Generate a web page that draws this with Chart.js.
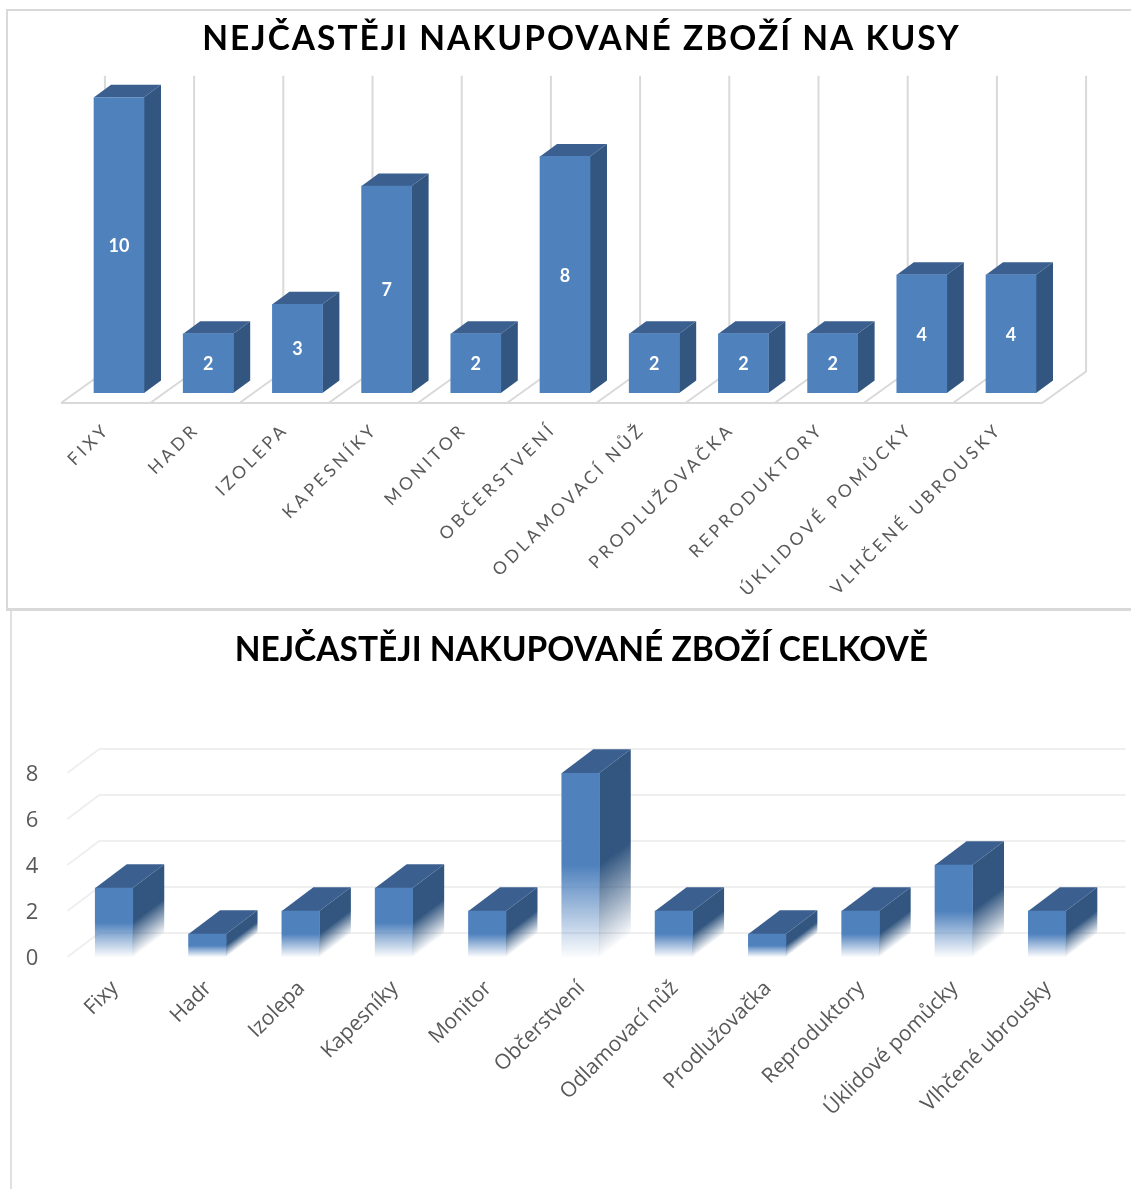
<!DOCTYPE html>
<html lang="cs">
<head>
<meta charset="utf-8">
<script src="https://cdn.jsdelivr.net/npm/chart.js@4"></script>
<style>
html,body{margin:0;padding:0;background:#fff;width:1131px;height:1189px;overflow:hidden}
canvas{position:absolute;left:0}
.f{position:absolute;background:#d9d9d9}
</style>
</head>
<body>
<div class="f" style="left:6px;top:9px;width:1125px;height:2px"></div>
<div class="f" style="left:6px;top:9px;width:2px;height:600px"></div>
<div class="f" style="left:6px;top:608px;width:1125px;height:3px"></div>
<div class="f" style="left:10px;top:611px;width:2px;height:578px;background:#e0e0e0"></div>
<canvas id="c1" style="top:0"></canvas>
<canvas id="c2" style="top:611px"></canvas>
<script>
const titleKusy = "NEJČASTĚJI NAKUPOVANÉ ZBOŽÍ NA KUSY";
const titleCelkem = "NEJČASTĚJI NAKUPOVANÉ ZBOŽÍ CELKOVĚ";
const categoriesKusy = ["FIXY","HADR","IZOLEPA","KAPESNÍKY","MONITOR","OBČERSTVENÍ","ODLAMOVACÍ NŮŽ","PRODLUŽOVAČKA","REPRODUKTORY","ÚKLIDOVÉ POMŮCKY","VLHČENÉ UBROUSKY"];
const valuesKusy = [10,2,3,7,2,8,2,2,2,4,4];
const categoriesCelkem = ["Fixy","Hadr","Izolepa","Kapesníky","Monitor","Občerstvení","Odlamovací nůž","Prodlužovačka","Reproduktory","Úklidové pomůcky","Vlhčené ubrousky"];
const valuesCelkem = [3,1,2,3,2,8,2,1,2,4,2];
const ticksCelkem = [0,2,4,6,8];

const FONT = "Lato, Carlito, sans-serif";
const FRONT = "#4f81bd", SIDE = "#325680", TOP = "#3b6090";
const INK = "#595959";

function rgba(hex,a){const n=parseInt(hex.slice(1),16);return `rgba(${n>>16},${(n>>8)&255},${n&255},${a})`;}

function poly(ctx,pts,fill){ctx.beginPath();pts.forEach((p,i)=>i?ctx.lineTo(p[0],p[1]):ctx.moveTo(p[0],p[1]));ctx.closePath();ctx.fillStyle=fill;ctx.fill();}

function makeFade(ctx,x0,y0,x1,y1,hex,solid){
  const g=ctx.createLinearGradient(x0,y0,x1,y1);
  g.addColorStop(0,rgba(hex,1));g.addColorStop(solid,rgba(hex,1));
  g.addColorStop(solid+(1-solid)*.12,rgba(hex,.88));
  g.addColorStop(1,rgba(hex,.02));
  return g;
}

/* 3D faces, back wall and floor, all positioned from the library's scales and bar elements */
const depthPlugin={
  id:"depth",
  beforeLayout(chart,_a,o){chart.ctx.letterSpacing=o.spacing;},
  afterLayout(chart,_a,o){
    const tb=chart.titleBlock;
    tb.left+=o.titleShift;tb.right+=o.titleShift;
    if(!tb._spaced){
      const d=tb.draw;
      tb.draw=function(){chart.ctx.letterSpacing=o.titleSpacing;d.apply(this,arguments);chart.ctx.letterSpacing=o.spacing;};
      tb._spaced=true;
    }
  },
  beforeDraw(chart,_a,o){chart.ctx.letterSpacing=o.spacing;},
  beforeDatasetsDraw(chart,_a,o){
    const {ctx,scales:{x,y}}=chart;
    const base=y.getPixelForValue(0),band=x.width/x.ticks.length;
    ctx.save();
    ctx.lineWidth=2;ctx.strokeStyle=o.gridColor;
    ctx.beginPath();
    if(o.wall==="vertical"){
      const top=y.getPixelForValue(y.max);
      ctx.moveTo(x.left-o.frontX,base+o.frontY);ctx.lineTo(x.right-o.frontX,base+o.frontY);
      for(let i=0;i<=x.ticks.length;i++){
        const l=x.left+band*i;
        ctx.moveTo(l-o.frontX,base+o.frontY);
        ctx.lineTo(l+o.backX,base-o.backY);
        ctx.lineTo(l+o.backX,top-o.backY);
      }
    }else{
      y.ticks.forEach(t=>{
        const p=y.getPixelForValue(t.value);
        ctx.moveTo(x.left,p);
        ctx.lineTo(x.left+o.backX,p-o.backY);
        ctx.lineTo(x.right+o.backX,p-o.backY);
      });
    }
    ctx.stroke();
    chart.getDatasetMeta(0).data.forEach(b=>{
      const r=b.x+b.width/2,l=b.x-b.width/2,dx=o.dx,dy=o.dy;
      poly(ctx,[[l,b.y],[r,b.y],[r+dx,b.y-dy],[l+dx,b.y-dy]],TOP);
      let fill=SIDE;
      if(o.fade){
        const h=b.base-b.y,len=Math.hypot(dx,dy),ux=dx/len,uy=-dy/len,t=-h*uy;
        fill=makeFade(ctx,r,b.y,r+t*ux,b.base+t*uy,SIDE,o.solid);
      }
      poly(ctx,[[r,b.y],[r+dx,b.y-dy],[r+dx,b.base-dy],[r,b.base]],fill);
    });
    ctx.restore();
  },
  afterDatasetsDraw(chart,_a,o){
    if(!o.values)return;
    const ctx=chart.ctx;
    ctx.save();
    ctx.letterSpacing="0px";
    ctx.font=`bold 18px ${FONT}`;ctx.fillStyle="#fff";ctx.textAlign="center";ctx.textBaseline="middle";
    chart.getDatasetMeta(0).data.forEach((b,i)=>ctx.fillText(String(o.values[i]),b.x,(b.y+b.base)/2+1));
    ctx.restore();
  }
};

function build(id,cfg){
  const cv=document.getElementById(id);
  cv.width=1131;cv.height=cfg.height;cv.style.width="1131px";cv.style.height=cfg.height+"px";
  return new Chart(cv,{
    type:"bar",
    data:{labels:cfg.labels,datasets:[{
      data:cfg.values,
      barThickness:cfg.barW,
      borderWidth:0,
      backgroundColor:cfg.fade?(c)=>{
        if(c.type!=="data")return FRONT;
        const y=c.chart.scales.y;
        const y0=y.getPixelForValue(c.raw),y1=y.getPixelForValue(0);
        if(!isFinite(y0)||!isFinite(y1))return FRONT;
        return makeFade(c.chart.ctx,0,y0,0,y1,FRONT,cfg.solid);
      }:FRONT
    }]},
    plugins:[depthPlugin],
    options:{
      responsive:false,animation:false,events:[],
      layout:{padding:{left:cfg.padL,right:cfg.padR,top:0,bottom:0}},
      plugins:{
        legend:{display:false},tooltip:{enabled:false},
        title:{display:true,text:cfg.title,color:"#000",align:"center",
          font:{family:FONT,weight:"bold",size:cfg.titleSize,lineHeight:1.2},
          padding:{top:cfg.titleTop,bottom:cfg.titleBottom}},
        depth:cfg.depth
      },
      scales:{
        x:{grid:{display:false},border:{display:false},
          ticks:{color:INK,font:{family:cfg.tickFont,size:cfg.tickSize},autoSkip:false,minRotation:cfg.rotation,maxRotation:cfg.rotation,
                 padding:cfg.tickPad,labelOffset:cfg.labelOffset},
          afterFit(s){s.height=cfg.axisH;s.paddingLeft=0;s.paddingRight=0;}
        },
        y:{display:cfg.showY,min:0,max:cfg.yMax,grid:{display:false},border:{display:false},
          ticks:{color:INK,font:{family:cfg.tickFont,size:cfg.yTickSize||18},stepSize:2,padding:cfg.yPad||0,labelOffset:cfg.yLabelOffset||0},
          afterFit(s){s.width=cfg.yW||0;s.paddingTop=0;s.paddingBottom=0;}
        }
      }
    }
  });
}

build("c1",{
  height:608,title:titleKusy,labels:categoriesKusy,values:valuesKusy,barW:50,
  padL:74.4,padR:75.4,yMax:10,showY:false,axisH:215,rotation:45,tickFont:FONT,
  titleSize:33.5,titleTop:19.4,titleBottom:37.7,tickSize:17.5,tickPad:18,labelOffset:-12,
  depth:{spacing:"3.5px",titleSpacing:"2px",titleShift:16.5,wall:"vertical",gridColor:"#d9d9d9",
    frontX:13.4,frontY:10,backX:30.5,backY:21.5,dx:17,dy:12.5,fade:false,values:valuesKusy}
});
build("c2",{
  height:578,title:titleCelkem,labels:categoriesCelkem,values:valuesCelkem,barW:37.5,
  padL:0,padR:37.3,yMax:ticksCelkem[ticksCelkem.length-1],showY:true,yW:67.35,yPad:21,yTickSize:22,yLabelOffset:2,axisH:232,rotation:45,
  tickFont:"'Open Sans', sans-serif",
  titleSize:33.5,titleTop:19,titleBottom:102.8,tickSize:21,tickPad:11,labelOffset:1,fade:true,solid:.5,
  depth:{spacing:"0px",titleSpacing:"0px",titleShift:34.5,wall:"horizontal",gridColor:"#efefef",
    backX:32,backY:24,dx:31.5,dy:23.7,fade:true,solid:.5}
});
</script>
</body>
</html>
